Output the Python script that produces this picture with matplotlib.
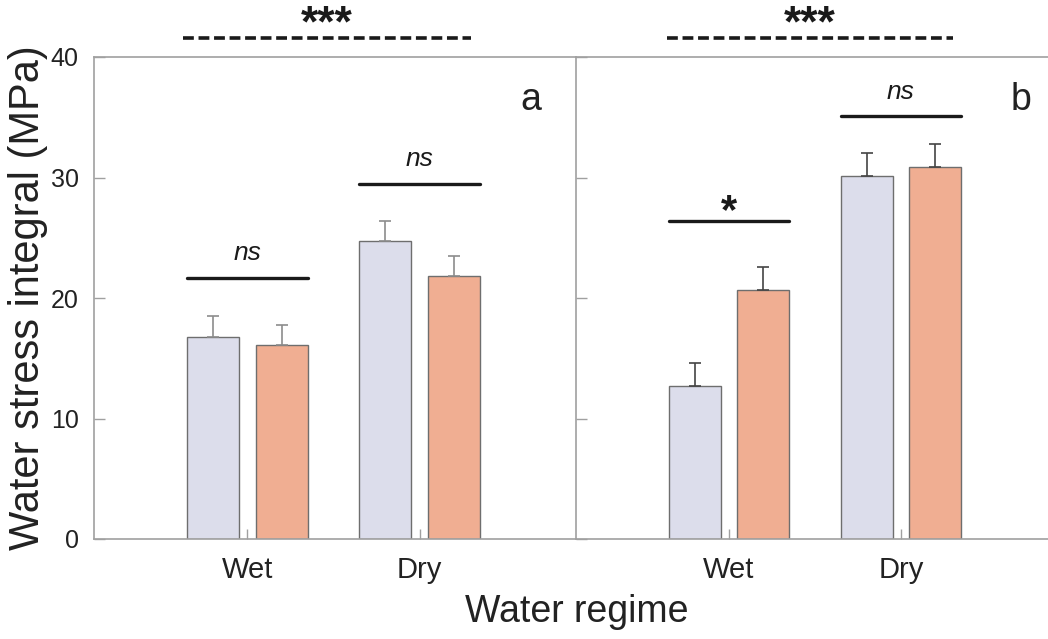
import matplotlib
matplotlib.use("Agg")
import matplotlib.pyplot as plt
import numpy as np

plt.rcParams['font.family'] = ['Liberation Sans', 'DejaVu Sans']

regimes = ["Wet", "Dry"]
# panel a
a_blue = [16.8, 24.7]
a_blue_err = [1.7, 1.7]
a_orange = [16.1, 21.8]
a_orange_err = [1.7, 1.7]
# panel b
b_blue = [12.7, 30.1]
b_blue_err = [1.9, 1.9]
b_orange = [20.7, 30.9]
b_orange_err = [1.9, 1.9]

# significance annotations per group and height of their lines
a_sig = ["ns", "ns"]
a_sig_y = [21.7, 29.5]
b_sig = ["*", "ns"]
b_sig_y = [26.4, 35.1]

blue_c = "#DCDDEB"
orange_c = "#F0AE92"
edge_c = "#6E6E6E"
spine_c = "#A0A0A0"

fig = plt.figure(figsize=(10.48, 6.39), dpi=100)
axb_bottom = 100 / 639
axh = 482 / 639
axA = fig.add_axes([94 / 1048, axb_bottom, 482 / 1048, axh])
axB = fig.add_axes([576 / 1048, axb_bottom, 472 / 1048, axh])

x = np.arange(1, len(regimes) + 1)
off = 0.2
w = 0.302


def draw(ax, blue, blue_err, orange, orange_err, sig, sig_y, err_c, xlim, letter, letter_x, show_ylabels):
    ax.bar(x - off, blue, w, color=blue_c, edgecolor=edge_c, linewidth=1.0, zorder=2)
    ax.bar(x + off, orange, w, color=orange_c, edgecolor=edge_c, linewidth=1.0, zorder=2)
    ax.errorbar(x - off, blue, yerr=[np.zeros(len(blue)), blue_err], fmt="none",
                ecolor=err_c, elinewidth=1.2, capsize=4.5, capthick=1.2, zorder=3)
    ax.errorbar(x + off, orange, yerr=[np.zeros(len(orange)), orange_err], fmt="none",
                ecolor=err_c, elinewidth=1.2, capsize=4.5, capthick=1.2, zorder=3)
    for xi, s, yy in zip(x, sig, sig_y):
        ax.plot([xi - off - w / 2, xi + off + w / 2], [yy, yy], color="#1a1a1a", lw=2.4,
                solid_capstyle="round", zorder=4)
        if s == "*":
            ax.text(xi, yy - 0.2, s, ha="center", va="baseline", fontsize=30, fontweight="bold",
                    color="#1a1a1a")
        else:
            ax.text(xi, yy + 1.0, s, ha="center", va="bottom", fontsize=19, style="italic",
                    color="#1a1a1a")
    ax.set_xlim(*xlim)
    ax.set_ylim(0, 40)
    ax.set_yticks([0, 10, 20, 30, 40])
    ax.set_xticks(x)
    ax.set_xticklabels(regimes, fontsize=21, color="#222222")
    ax.tick_params(axis="x", direction="in", length=7, width=1, color=spine_c, pad=12)
    ax.tick_params(axis="y", direction="in", length=8, width=1, color=spine_c, pad=11,
                   labelsize=18, labelcolor="#222222", labelleft=show_ylabels)
    for sp in ax.spines.values():
        sp.set_color(spine_c)
        sp.set_linewidth(1.2)
    ax.text(letter_x, 36.4, letter, ha="center", va="center", fontsize=27, color="#222222")
    ax.set_facecolor("none")


draw(axA, a_blue, a_blue_err, a_orange, a_orange_err, a_sig, a_sig_y, "#8C8C8C",
     (0.1105, 2.907), "a", 2.645, True)
draw(axB, b_blue, b_blue_err, b_orange, b_orange_err, b_sig, b_sig_y, "#444444",
     (0.110, 2.855), "b", 2.70, False)
axB.spines["right"].set_visible(False)
axA.spines["right"].set_visible(False)

# top-level significance
for ax, (x0, x1) in [(axA, (0.628, 2.297)), (axB, (0.64, 2.30))]:
    ax.plot([x0, x1], [41.6, 41.6], color="#1a1a1a", lw=2.6, linestyle=(0, (3.0, 1.3)),
            clip_on=False)
    ax.text((x0 + x1) / 2, 41.7, "***", ha="center", va="baseline", fontsize=32,
            fontweight="bold", color="#1a1a1a", clip_on=False)

fig.text(28 / 1048, 1 - 298 / 639, "Water stress integral (MPa)", rotation=90,
         ha="center", va="center", fontsize=30, color="#222222")
fig.text(577 / 1048, 1 - 612 / 639, "Water regime", ha="center", va="center",
         fontsize=27, color="#222222")

fig.savefig("out.png", dpi=100)
